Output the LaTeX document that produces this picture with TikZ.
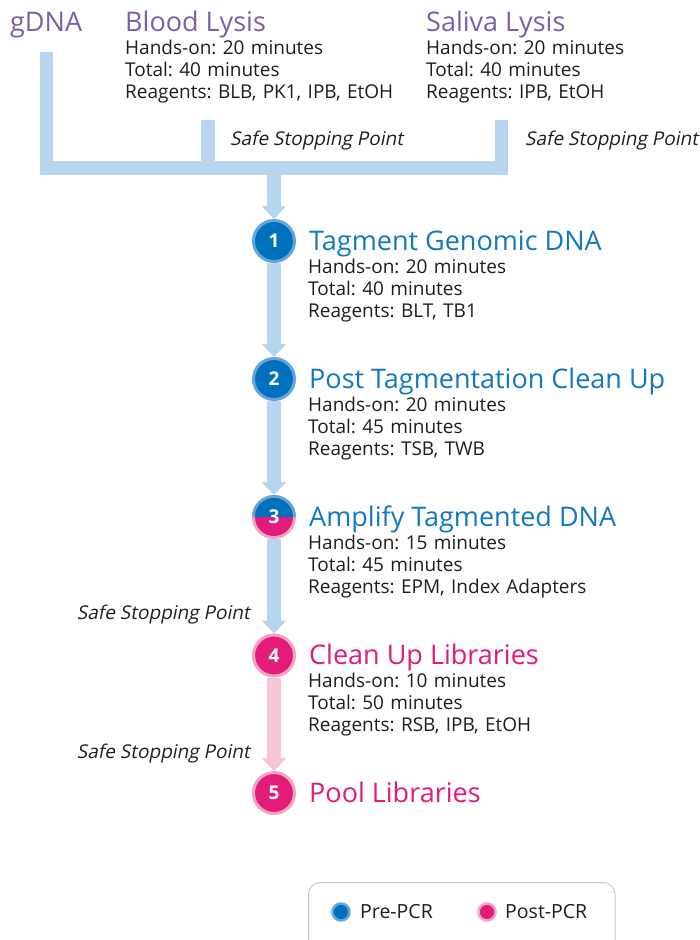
\documentclass[tikz,border=0pt]{standalone}
\usepackage{fontspec}
\setmainfont{Open Sans}
\newfontfamily\slantfont[FakeSlant=0.2]{Open Sans}
\usetikzlibrary{arrows.meta}
\definecolor{tpurple}{HTML}{7C5FA9}
\definecolor{tblue}{HTML}{1378BF}
\definecolor{tpink}{HTML}{E3197B}
\definecolor{cblue}{HTML}{0071BC}
\definecolor{cblueL}{HTML}{62A6DD}
\definecolor{cpink}{HTML}{E31C79}
\definecolor{cpinkL}{HTML}{F2A3C4}
\definecolor{barblue}{HTML}{B7D5EF}
\definecolor{barpink}{HTML}{F8C5D8}
\definecolor{bodytext}{HTML}{1E1E1E}
\definecolor{legbox}{HTML}{C8C8C8}
\frenchspacing
\tikzset{
  title/.style={anchor=base west, inner sep=0pt, font=\fontsize{27}{30}\selectfont},
  body/.style={anchor=base west, inner sep=0pt, text width=330pt, align=left, text=bodytext,
    font=\frenchspacing\fontsize{19}{22}\selectfont},
  safe/.style={inner sep=0pt, text=bodytext, font=\fontsize{19}{22}\slantfont},
  stepc/.style={circle, inner sep=0pt, minimum size=41pt, line width=3pt, text=white,
    font=\fontsize{19}{22}\selectfont\bfseries},
  bluec/.style={stepc, fill=cblue, draw=cblueL},
  pinkc/.style={stepc, fill=cpink, draw=cpinkL},
  bar/.style={line width=13.5pt, line cap=butt, line join=miter, color=barblue},
  flow/.style={line width=14pt, color=#1, -{Triangle[width=24pt,length=13pt]}},
  legdot/.style={circle, inner sep=0pt, minimum size=17pt, line width=2.5pt},
  legtext/.style={anchor=base west, inner sep=0pt, text=bodytext, font=\fontsize{19.5}{22}\selectfont}
}
\begin{document}
\begin{tikzpicture}[x=1pt,y=-1pt]
\clip (0,0) rectangle (700,940);
\fill[white] (0,0) rectangle (700,940);

% top sources
\node[title, text=tpurple] (gdna) at (10,31) {gDNA};
\node[title, text=tpurple] (blood) at (125,31) {Blood Lysis};
\node[body] (bloodtxt) at (125,54) {Hands-on: 20 minutes\\Total: 40 minutes\\Reagents: BLB, PK1, IPB, EtOH};
\node[title, text=tpurple] (saliva) at (426,31) {Saliva Lysis};
\node[body] (salivatxt) at (426,54) {Hands-on: 20 minutes\\Total: 40 minutes\\Reagents: IPB, EtOH};

\node[safe, anchor=base west] (ss1) at (230,145) {Safe Stopping Point};
\node[safe, anchor=base west] (ss2) at (525,145) {Safe Stopping Point};

% bars
\coordinate (gtop) at (46.5,52);
\coordinate (stop) at (501.5,120);
\coordinate (btop) at (208,120);
\coordinate (bjoin) at (208,168);
\coordinate (join) at (274,168);
\draw[bar] (gtop) |- (501.5,168) -- (stop);
\draw[bar] (btop) -- (bjoin);

% steps
\node[bluec] (s1) at (274,241) {1};
\node[bluec] (s2) at (274,379) {2};
\coordinate (c3) at (274,517);
\node[pinkc] (s4) at (274,655.5) {4};
\node[pinkc] (s5) at (274,793) {5};

\begin{scope}[shift={(c3)},x=1pt,y=1pt]
  \fill[cpinkL] (0,0) circle (22);
  \fill[cblueL] (22,0) arc (0:180:22) -- cycle;
  \fill[cpink] (0,0) circle (19);
  \fill[cblue] (19,0) arc (0:180:19) -- cycle;
\end{scope}
\node[stepc] (s3) at (c3) {3};

% connectors
\draw[flow=barblue] (join) -- (s1.north);
\draw[flow=barblue] (s1.south) -- (s2.north);
\draw[flow=barblue] (s2.south) -- (s3.north);
\draw[flow=barblue] (s3.south) -- (s4.north);
\draw[flow=barpink] (s4.south) -- (s5.north);

% step texts
\node[title, text=tblue] (t1) at (309,250) {Tagment Genomic DNA};
\node[body] (b1) at (308,273) {Hands-on: 20 minutes\\Total: 40 minutes\\Reagents: BLT, TB1};
\node[title, text=tblue] (t2) at (309,388) {Post Tagmentation Clean Up};
\node[body] (b2) at (308,411) {Hands-on: 20 minutes\\Total: 45 minutes\\Reagents: TSB, TWB};
\node[title, text=tblue] (t3) at (309,526) {Amplify Tagmented DNA};
\node[body] (b3) at (308,549) {Hands-on: 15 minutes\\Total: 45 minutes\\Reagents: EPM, Index Adapters};
\node[title, text=tpink] (t4) at (309,664.5) {Clean Up Libraries};
\node[body] (b4) at (308,687.5) {Hands-on: 10 minutes\\Total: 50 minutes\\Reagents: RSB, IPB, EtOH};
\node[title, text=tpink] (t5) at (309,802) {Pool Libraries};

\node[safe, anchor=base east] (ss3) at (250,619) {Safe Stopping Point};
\node[safe, anchor=base east] (ss4) at (250,758) {Safe Stopping Point};

% legend
\draw[legbox, line width=1pt, rounded corners=12pt] (308.5,882.5) rectangle (615,960);
\node[legdot, fill=cblue, draw=cblueL] (lb) at (341,912) {};
\node[legtext] (lbt) at (360,918.5) {Pre-PCR};
\node[legdot, fill=cpink, draw=cpinkL] (lp) at (487,912) {};
\node[legtext] (lpt) at (505,918.5) {Post-PCR};
\end{tikzpicture}
\end{document}
